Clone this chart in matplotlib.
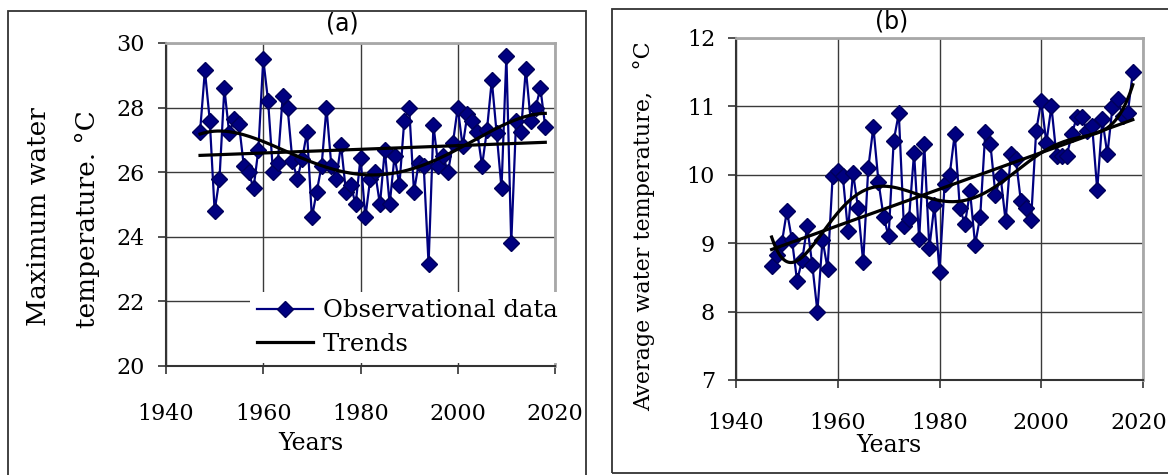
import numpy as np
import matplotlib.pyplot as plt
from matplotlib.patches import Rectangle
from matplotlib.transforms import ScaledTranslation

years = np.arange(1947, 2019)

# maximum water temperature, deg C
t_max = [27.25, 29.15, 27.6, 24.8, 25.8, 28.6, 27.2, 27.65, 27.5, 26.2,
         26.0, 25.5, 26.7, 29.5, 28.2, 26.0, 26.3, 28.35, 28.0, 26.35,
         25.8, 26.4, 27.25, 24.6, 25.4, 26.2, 28.0, 26.2, 25.8, 26.85,
         25.4, 25.6, 25.0, 26.45, 24.6, 25.8, 26.0, 25.0, 26.7, 25.0,
         26.5, 25.6, 27.6, 28.0, 25.4, 26.3, 26.2, 23.15, 27.45, 26.2,
         26.5, 26.0, 26.9, 28.0, 26.8, 27.8, 27.6, 27.25, 26.2, 27.3,
         28.85, 27.2, 25.5, 29.6, 23.8, 27.6, 27.25, 29.2, 27.6, 28.0,
         28.6, 27.4]

# average water temperature, deg C
t_avg = [8.66, 8.83, 9.0, 9.47, 9.05, 8.45, 8.75, 9.25, 8.68, 8.0,
         9.05, 8.63, 9.98, 10.05, 9.98, 9.18, 10.03, 9.51, 8.72, 10.1,
         10.7, 9.9, 9.39, 9.1, 10.5, 10.9, 9.25, 9.35, 10.32, 9.06,
         10.45, 8.93, 9.56, 8.58, 9.86, 10.0, 10.6, 9.51, 9.28, 9.76,
         8.98, 9.39, 10.62, 10.45, 9.71, 9.98, 9.32, 10.3, 10.23, 9.61,
         9.51, 9.34, 10.64, 11.08, 10.47, 11.0, 10.27, 10.27, 10.27, 10.6,
         10.84, 10.84, 10.64, 10.72, 9.78, 10.81, 10.3, 10.99, 11.11, 10.86,
         10.9, 11.5]

x_ticks = [1940, 1960, 1980, 2000, 2020]

W, H = 1168, 475
fig = plt.figure(figsize=(W / 100, H / 100), dpi=100)
fig.patch.set_facecolor('white')


def box(x0, y0, x1, y1):
    # pixel box (top-left origin) -> figure fraction rect
    return [x0 / W, 1 - y1 / H, (x1 - x0) / W, (y1 - y0) / H]


def ftext(x, y, s, **kw):
    return fig.text(x / W, 1 - y / H, s, ha='center', va='center', **kw)


def trends(x, y, deg):
    xc = x - x.mean()
    xs = np.linspace(x.min(), x.max(), 300)
    lin = np.polyval(np.polyfit(xc, y, 1), xs - x.mean())
    poly = np.polyval(np.polyfit(xc, y, deg), xs - x.mean())
    return xs, lin, poly


def style(ax, ylim, yticks, xpad):
    ax.set_xlim(1940, 2020)
    ax.set_ylim(*ylim)
    ax.set_xticks(x_ticks)
    ax.set_yticks(yticks)
    ax.grid(True, color='#3a3a3a', lw=1.0)
    ax.set_axisbelow(True)
    for s in ['left', 'bottom']:
        ax.spines[s].set_color('#333333')
        ax.spines[s].set_linewidth(1.5)
    for s in ['top', 'right']:
        ax.spines[s].set_color('#a8a8a8')
        ax.spines[s].set_linewidth(2.0)
    ax.tick_params(direction='out', length=6, width=1.2, color='#333333',
                   labelsize=16)
    ax.tick_params(axis='x', pad=xpad)
    ax.tick_params(axis='y', pad=9)
    for lab in ax.get_xticklabels() + ax.get_yticklabels():
        lab.set_family('DejaVu Serif')


blue = '#000080'

# frames round the two panels
fig.add_artist(Rectangle((8 / W, -0.02), (586 - 8) / W, 1.02 - 11 / H,
                         transform=fig.transFigure, fill=False,
                         ec='#333333', lw=1.3))
fig.add_artist(Rectangle((612 / W, 1 - 473 / H), 0.5, (473 - 9) / H,
                         transform=fig.transFigure, fill=False,
                         ec='#333333', lw=1.3))

# (a) maximum temperature
ax1 = fig.add_axes(box(166, 43, 555, 366))
xs, lin, poly = trends(years, np.array(t_max), 4)
ax1.plot(years, t_max, color=blue, lw=1.6, marker='D', ms=8.5,
         mfc=blue, mec='#00005a', label='Observational data', zorder=3)
ax1.plot(xs, lin, color='black', lw=2.3, label='Trends', zorder=4)
ax1.plot(xs, poly, color='black', lw=2.3, zorder=4)
style(ax1, (20, 30), [20, 22, 24, 26, 28, 30], 21)
leg = ax1.legend(loc='upper left', bbox_to_anchor=(0.216, 0.229),
                 borderaxespad=0, frameon=True, facecolor='white',
                 edgecolor='none', framealpha=1, fancybox=False,
                 prop={'family': 'DejaVu Serif', 'size': 17.5},
                 handlelength=2.3, handletextpad=0.4, labelspacing=0.42,
                 borderpad=0.3)
leg.set_zorder(10)

ftext(342, 24, '(a)', fontsize=17, family='DejaVu Sans')
ftext(39, 217, 'Maximum water', rotation=90, fontsize=19,
      family='DejaVu Serif')
ftext(87, 219, 'temperature. °C', rotation=90, fontsize=19,
      family='DejaVu Serif')
ftext(311, 444, 'Years', fontsize=17, family='DejaVu Serif')

# (b) average temperature
ax2 = fig.add_axes(box(736, 38, 1143, 380))
xs, lin, poly = trends(years, np.array(t_avg), 6)
ax2.plot(years, t_avg, color=blue, lw=1.6, marker='D', ms=8.5,
         mfc=blue, mec='#00005a', zorder=3)
ax2.plot(xs, lin, color='black', lw=2.3, zorder=4)
ax2.plot(xs, poly, color='black', lw=2.3, zorder=4)
style(ax2, (7, 12), [7, 8, 9, 10, 11, 12], 17)
# keep the last year label inside the figure edge
last = ax2.get_xticklabels()[-1]
last.set_transform(last.get_transform()
                   + ScaledTranslation(-4 / 100, 0, fig.dpi_scale_trans))

ftext(892, 22, '(b)', fontsize=17, family='DejaVu Sans')
ftext(644, 226, 'Average water temperature,   °C', rotation=90,
      fontsize=16, family='DejaVu Serif')
ftext(889, 446, 'Years', fontsize=17, family='DejaVu Serif')

fig.savefig('out.png', dpi=100, facecolor='white')
